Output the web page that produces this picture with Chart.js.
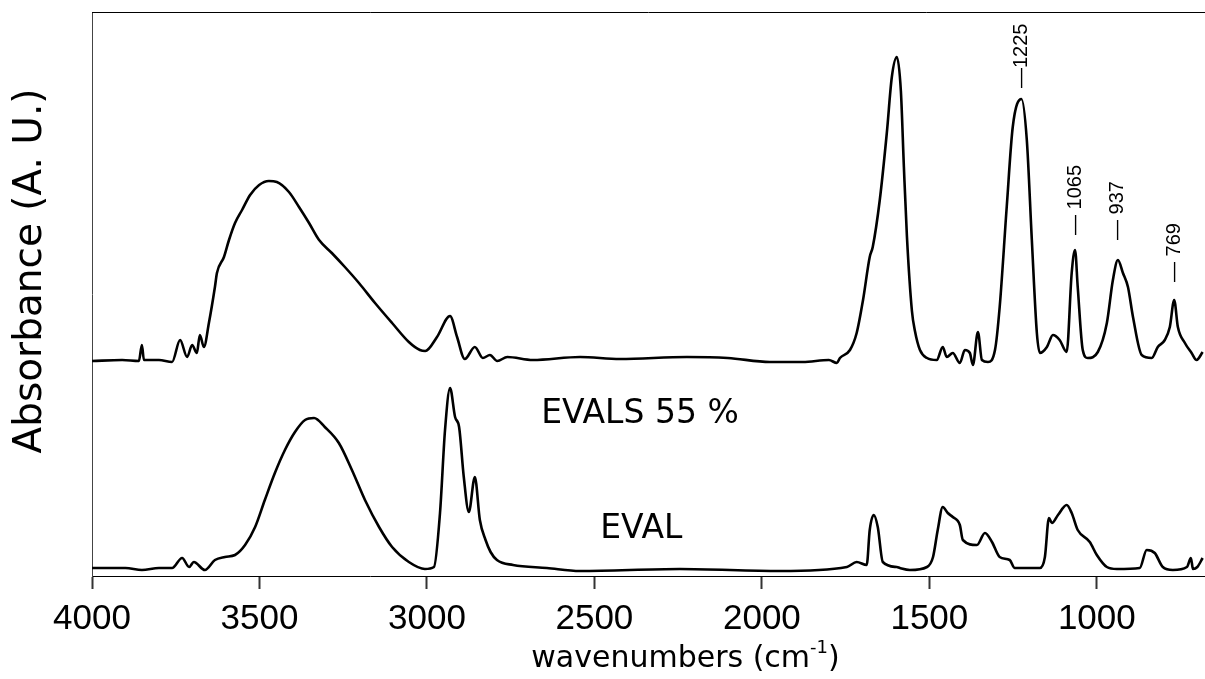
<!DOCTYPE html>
<html>
<head>
<meta charset="utf-8">
<script src="https://cdn.jsdelivr.net/npm/chart.js@4/dist/chart.umd.min.js"></script>
<style>
  body { margin: 0; background: #fff; }
  canvas { display: block; }
</style>
</head>
<body>
<canvas id="ftirChart" width="1205" height="679"></canvas>
<script>
// EVALS 55 % spectrum (upper trace), wavenumber / absorbance pairs
const evalsWn = [4000, 3910, 3860, 3851, 3845, 3800, 3761, 3737, 3716, 3701, 3687, 3678, 3666, 3651, 3633, 3627,
  3606, 3591, 3573, 3552, 3528, 3501, 3472, 3448, 3412, 3382, 3352, 3322, 3284, 3245, 3203, 3155, 3104, 3054,
  3021, 3005, 2970, 2931, 2910, 2887, 2857, 2833, 2812, 2790, 2760, 2684, 2543, 2424, 2224, 2102, 1976, 1878,
  1800, 1776, 1767, 1737, 1717, 1698, 1678, 1669, 1648, 1627, 1612, 1597, 1585, 1576, 1567, 1552, 1543, 1528, 1507,
  1478, 1460, 1448, 1430, 1409, 1394, 1379, 1370, 1355, 1343, 1325, 1304, 1290, 1269, 1251, 1225, 1209, 1194,
  1179, 1170, 1149, 1131, 1111, 1090, 1075, 1065, 1057, 1042, 1027, 997, 970, 952, 937, 922, 907, 892, 866, 836,
  818, 797, 782, 769, 758, 737, 717, 702, 684];
const evalsAbs = [2.15, 2.16, 2.15, 2.31, 2.16, 2.16, 2.14, 2.36, 2.19, 2.31, 2.23, 2.41, 2.29, 2.53, 2.89, 3.03,
  3.19, 3.36, 3.53, 3.66, 3.81, 3.91, 3.95, 3.94, 3.84, 3.69, 3.53, 3.36, 3.23, 3.09, 2.93, 2.73, 2.53, 2.34,
  2.26, 2.25, 2.39, 2.60, 2.39, 2.17, 2.29, 2.18, 2.21, 2.15, 2.19, 2.16, 2.19, 2.17, 2.19, 2.18, 2.14, 2.14,
  2.16, 2.13, 2.18, 2.26, 2.43, 2.76, 3.19, 3.29, 3.76, 4.43, 4.99, 5.19, 4.85, 4.09, 3.40, 2.65, 2.45, 2.26, 2.18,
  2.16, 2.29, 2.19, 2.23, 2.13, 2.26, 2.23, 2.11, 2.44, 2.16, 2.14, 2.26, 2.69, 3.69, 4.49, 4.77, 4.36, 3.36,
  2.43, 2.23, 2.29, 2.41, 2.36, 2.24, 3.03, 3.26, 2.89, 2.26, 2.18, 2.24, 2.53, 2.96, 3.16, 3.03, 2.89, 2.59, 2.21, 2.18,
  2.29, 2.36, 2.49, 2.76, 2.49, 2.33, 2.23, 2.16, 2.24];

// EVAL spectrum (lower trace)
const evalWn = [4000, 3900, 3851, 3800, 3761, 3731, 3710, 3696, 3663, 3633, 3603, 3573, 3543, 3513, 3484, 3454,
  3424, 3394, 3364, 3337, 3305, 3263, 3224, 3185, 3143, 3104, 3054, 3006, 2979, 2961, 2946, 2931, 2916, 2904,
  2890, 2875, 2857, 2842, 2825, 2810, 2791, 2743, 2642, 2543, 2245, 1946, 1746, 1717, 1687, 1678, 1666, 1654,
  1639, 1597, 1588, 1558, 1507, 1489, 1475, 1460, 1445, 1430, 1409, 1400, 1358, 1334, 1313, 1290, 1260, 1245,
  1170, 1155, 1143, 1134, 1116, 1090, 1075, 1057, 1021, 1000, 970, 940, 872, 851, 827, 803, 773, 731, 719, 713,
  700, 684];
const evalAbs = [0.08, 0.08, 0.06, 0.08, 0.08, 0.18, 0.09, 0.14, 0.06, 0.16, 0.19, 0.21, 0.31, 0.49, 0.76, 1.03,
  1.26, 1.44, 1.56, 1.58, 1.49, 1.33, 1.06, 0.76, 0.49, 0.29, 0.14, 0.07, 0.09, 0.63, 1.46, 1.88, 1.59, 1.49,
  0.99, 0.64, 0.99, 0.56, 0.36, 0.24, 0.16, 0.11, 0.08, 0.05, 0.07, 0.05, 0.09, 0.14, 0.11, 0.46, 0.61, 0.49,
  0.14, 0.09, 0.08, 0.06, 0.09, 0.19, 0.46, 0.69, 0.63, 0.59, 0.51, 0.36, 0.31, 0.43, 0.34, 0.19, 0.16, 0.08,
  0.08, 0.19, 0.58, 0.53, 0.61, 0.71, 0.63, 0.46, 0.34, 0.21, 0.09, 0.07, 0.08, 0.26, 0.23, 0.09, 0.06, 0.09, 0.18, 0.07,
  0.09, 0.18];

// band assignments marked on the EVALS trace: wavenumber and where the mark starts
const bandLabels = ['1225', '1065', '937', '769'];
const bandStart = [4.88, 3.41, 3.36, 2.94];

// sample names written next to each trace
const sampleNames = ['EVALS 55 %', 'EVAL'];
const sampleWn = [2364, 2360];
const sampleAbs = [1.62, 0.47];

const xTicks = [4000, 3500, 3000, 2500, 2000, 1500, 1000];

function toPoints(xs, ys) {
  return xs.map((v, i) => ({ x: v, y: ys[i] }));
}

const decorations = {
  id: 'decorations',
  afterDraw(chart) {
    const { ctx, chartArea, scales: { x, y } } = chart;
    ctx.save();

    // frame line along the top
    ctx.strokeStyle = '#000';
    ctx.lineWidth = 1;
    ctx.beginPath();
    ctx.moveTo(chartArea.left, chartArea.top + 0.5);
    ctx.lineTo(chartArea.right, chartArea.top + 0.5);
    ctx.stroke();

    ctx.fillStyle = '#000';

    // y axis title, sitting a little above the middle of the axis
    ctx.save();
    ctx.font = '39px "DejaVu Sans"';
    ctx.textAlign = 'center';
    ctx.textBaseline = 'middle';
    ctx.translate(31, 271);
    ctx.rotate(-Math.PI / 2);
    ctx.fillText('Absorbance (A. U.)', 0, 0);
    ctx.restore();

    // sample names
    ctx.font = '33px "DejaVu Sans"';
    ctx.textAlign = 'center';
    ctx.textBaseline = 'middle';
    sampleNames.forEach((name, i) => {
      ctx.fillText(name, x.getPixelForValue(sampleWn[i]), y.getPixelForValue(sampleAbs[i]));
    });

    // vertical band labels
    ctx.font = '20px "Liberation Sans"';
    ctx.textAlign = 'left';
    bandLabels.forEach((lab, i) => {
      const px = x.getPixelForValue(Number(lab));
      const py = y.getPixelForValue(bandStart[i]);
      ctx.save();
      ctx.translate(px, py);
      ctx.rotate(-Math.PI / 2);
      ctx.fillText(i === 0 ? '\u2014' + lab : '\u2014 ' + lab, 0, 0);
      ctx.restore();
    });

    // x axis title with superscript
    const main = 'wavenumbers (cm';
    const sup = '-1';
    const tail = ')';
    ctx.textBaseline = 'alphabetic';
    ctx.font = '30px "DejaVu Sans"';
    const wMain = ctx.measureText(main).width;
    const wTail = ctx.measureText(tail).width;
    ctx.font = '18px "DejaVu Sans"';
    const wSup = ctx.measureText(sup).width;
    const total = wMain + wSup + wTail;
    const cx = (chartArea.left + chartArea.right) / 2 + 37;
    const base = 667;
    let sx = cx - total / 2;
    ctx.font = '30px "DejaVu Sans"';
    ctx.fillText(main, sx, base);
    ctx.font = '18px "DejaVu Sans"';
    ctx.fillText(sup, sx + wMain, base - 14);
    ctx.font = '30px "DejaVu Sans"';
    ctx.fillText(tail, sx + wMain + wSup, base);

    ctx.restore();
  }
};

const traceStyle = {
  borderColor: '#000',
  borderWidth: 2.6,
  pointRadius: 0,
  cubicInterpolationMode: 'monotone'
};

new Chart(document.getElementById('ftirChart'), {
  type: 'line',
  data: {
    datasets: [
      Object.assign({ label: 'EVALS 55 %', data: toPoints(evalsWn, evalsAbs) }, traceStyle),
      Object.assign({ label: 'EVAL', data: toPoints(evalWn, evalAbs) }, traceStyle)
    ]
  },
  options: {
    responsive: false,
    animation: false,
    devicePixelRatio: 1,
    layout: { padding: { top: 12, right: 0, bottom: 0, left: 0 } },
    plugins: {
      legend: { display: false },
      tooltip: { enabled: false }
    },
    scales: {
      x: {
        type: 'linear',
        reverse: true,
        min: 677,
        max: 4000,
        afterBuildTicks: (scale) => {
          scale.ticks = xTicks.map(v => ({ value: v }));
        },
        ticks: {
          color: '#000',
          font: { family: 'Liberation Sans', size: 35 },
          padding: 9,
          maxRotation: 0,
          autoSkip: false,
          callback: (v) => String(v)
        },
        grid: {
          display: true,
          drawOnChartArea: false,
          drawTicks: true,
          tickLength: 13,
          tickColor: '#333',
          tickWidth: 2,
          color: '#333'
        },
        border: { display: true, color: '#000', width: 1 },
        afterFit: (scale) => { scale.height = 103; }
      },
      y: {
        min: 0,
        max: 5.64,
        ticks: { display: false },
        grid: { drawOnChartArea: false, drawTicks: false },
        border: { display: true, color: '#444', width: 1 },
        title: { display: false },
        afterFit: (scale) => { scale.width = 92; }
      }
    }
  },
  plugins: [decorations]
});
</script>
</body>
</html>
